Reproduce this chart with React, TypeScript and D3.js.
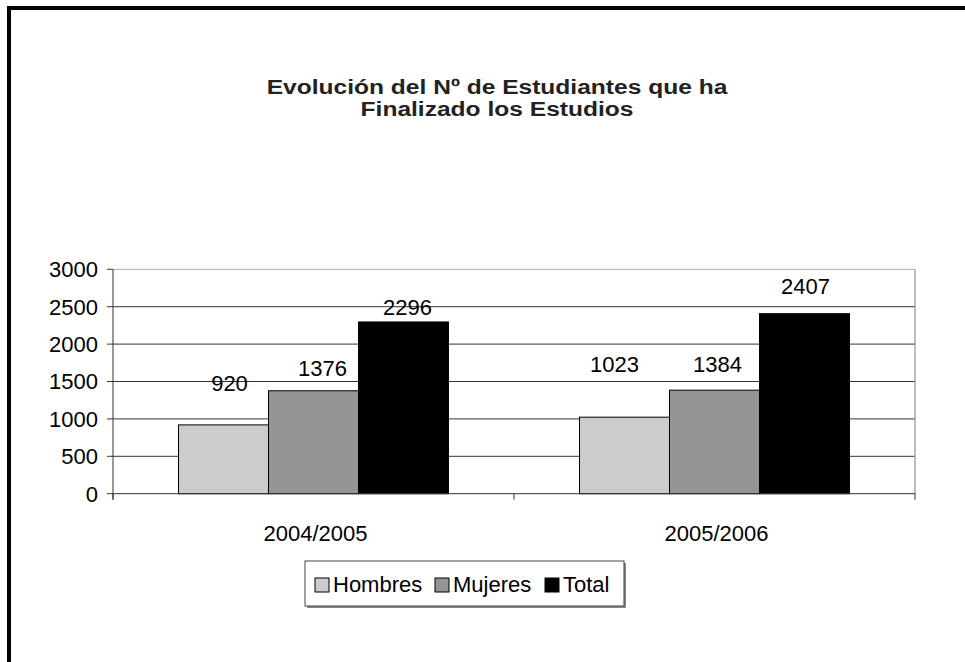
import React from "react";
import * as d3 from "d3";

const categories = ["2004/2005", "2005/2006"];
const seriesNames = ["Hombres", "Mujeres", "Total"];
const hombres = [920, 1023];
const mujeres = [1376, 1384];
const total = [2296, 2407];
const yTicks = [0, 500, 1000, 1500, 2000, 2500, 3000];
const titleLines = ["Evolución del Nº de Estudiantes que ha", "Finalizado los Estudios"];

// manual label nudges (px) as placed in the original chart, [series][category]
const labelDx = [[6, -10], [9, 3], [4, 1]];
const labelDy = [[-28, -39], [-9, -12], [-1, -14]];

const colors = ["#cccccc", "#959595", "#000000"];

const W = 965, H = 662;
const plot = { left: 113, right: 915, top: 269.3, bottom: 493.7 };
const FONT = "Arial, 'Liberation Sans', sans-serif";
const FS = 22;

export default function App() {
  const values = [hombres, mujeres, total];
  const x0 = d3.scaleBand<string>().domain(categories).range([plot.left, plot.right]).paddingInner(0).paddingOuter(0);
  const x1 = d3.scaleBand<string>().domain(seriesNames).range([0, x0.bandwidth()]).paddingInner(0).paddingOuter(0.728);
  const y = d3.scaleLinear().domain([0, 3000]).range([plot.bottom, plot.top]);

  const xBoundaries = [plot.left, ...categories.map((c) => (x0(c) as number) + x0.bandwidth())];
  const titleX = 497;

  return (
    <svg width={W} height={H} style={{ position: "absolute", left: 0, top: 0, background: "#fff" }} fontFamily={FONT}>
      <rect x={0} y={0} width={W} height={H} fill="#fff" />
      {/* outer frame */}
      <rect x={9} y={8} width={1100} height={1100} fill="none" stroke="#000" strokeWidth={4} />
      {/* title */}
      <g transform={`translate(${titleX},0) scale(1.17,1)`}>
        <text textAnchor="middle" fontWeight="bold" fontSize={21} fill="#222">
          {titleLines.map((l, i) => (
            <tspan key={i} x={0} y={94 + i * 22}>{l}</tspan>
          ))}
        </text>
      </g>
      {/* gridlines */}
      {yTicks.filter((t) => t > 0 && t < 3000).map((t) => (
        <line key={t} x1={plot.left} x2={plot.right} y1={y(t)} y2={y(t)} stroke="#333" strokeWidth={1} />
      ))}
      {/* plot border top/right */}
      <line x1={plot.left} x2={plot.right} y1={y(3000)} y2={y(3000)} stroke="#aaa" strokeWidth={1} />
      <line x1={plot.right} x2={plot.right} y1={plot.top} y2={plot.bottom} stroke="#999" strokeWidth={1.3} />
      {/* bars */}
      {values.map((vals, s) =>
        categories.map((c, i) => {
          const bx = (x0(c) as number) + (x1(seriesNames[s]) as number);
          return (
            <rect key={`${s}-${i}`} x={bx} y={y(vals[i])} width={x1.bandwidth()} height={plot.bottom - y(vals[i])}
              fill={colors[s]} stroke="#000" strokeWidth={1} />
          );
        })
      )}
      {/* axes */}
      <line x1={plot.left} x2={plot.left} y1={plot.top} y2={plot.bottom + 6} stroke="#333" strokeWidth={1} />
      <line x1={plot.left} x2={plot.right} y1={plot.bottom} y2={plot.bottom} stroke="#333" strokeWidth={1} />
      {yTicks.map((t) => (
        <g key={t}>
          <line x1={plot.left - 6} x2={plot.left} y1={y(t)} y2={y(t)} stroke="#333" />
          <text x={plot.left - 15} y={y(t)} dy="0.36em" textAnchor="end" fontSize={FS} fill="#000">{t}</text>
        </g>
      ))}
      {xBoundaries.map((bx, i) => (
        <line key={i} x1={bx} x2={bx} y1={plot.bottom} y2={plot.bottom + 6} stroke="#333" />
      ))}
      {categories.map((c) => (
        <text key={c} x={(x0(c) as number) + x0.bandwidth() / 2 + 2} y={541} textAnchor="middle" fontSize={FS} fill="#000">{c}</text>
      ))}
      {/* data labels */}
      {values.map((vals, s) =>
        categories.map((c, i) => {
          const cx = (x0(c) as number) + (x1(seriesNames[s]) as number) + x1.bandwidth() / 2;
          return (
            <text key={`l${s}-${i}`} x={cx + labelDx[s][i]} y={y(vals[i]) - 6 + labelDy[s][i]} textAnchor="middle" fontSize={FS} fill="#000">
              {vals[i]}
            </text>
          );
        })
      )}
      {/* legend */}
      <g>
        <rect x={307} y={563} width={319} height={45} fill="#888" />
        <rect x={305} y={561} width={319} height={45} fill="#fff" stroke="#444" strokeWidth={1} />
        {seriesNames.map((n, i) => {
          const lx = [315, 435, 545][i];
          return (
            <g key={n}>
              <rect x={lx} y={578} width={14} height={14} fill={colors[i]} stroke="#000" strokeWidth={1} />
              <text x={lx + 18} y={592} fontSize={FS} fill="#000">{n}</text>
            </g>
          );
        })}
      </g>
    </svg>
  );
}
